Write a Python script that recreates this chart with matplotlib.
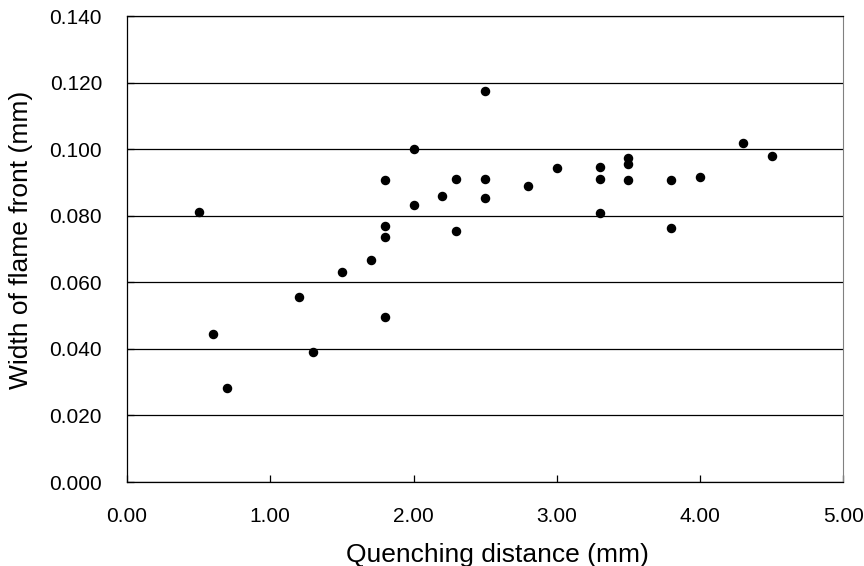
import matplotlib
matplotlib.use("Agg")
import matplotlib.pyplot as plt
from matplotlib.ticker import FormatStrFormatter

plt.rcParams['font.family'] = ['Liberation Sans', 'DejaVu Sans']

# quenching distance (mm) vs flame front width (mm)
quench_dist = [0.5, 0.6, 0.7, 1.2, 1.3, 1.5, 1.7, 1.8, 1.8, 1.8, 1.8,
               2.0, 2.0, 2.2, 2.3, 2.3, 2.5, 2.5, 2.5, 2.8, 3.0,
               3.3, 3.3, 3.3, 3.5, 3.5, 3.5, 3.8, 3.8, 4.0, 4.3, 4.5]
front_width = [0.081, 0.0444, 0.0282, 0.0555, 0.039, 0.063, 0.0666, 0.0768, 0.0737, 0.0497, 0.0906,
               0.0831, 0.1000, 0.0858, 0.0911, 0.0755, 0.1174, 0.0911, 0.0853, 0.0888, 0.0942,
               0.0947, 0.0911, 0.0808, 0.0974, 0.0954, 0.0907, 0.0907, 0.0764, 0.0916, 0.1018, 0.0978]

x_ticks = [0, 1, 2, 3, 4, 5]
y_ticks = [0.0, 0.02, 0.04, 0.06, 0.08, 0.10, 0.12, 0.14]

fig = plt.figure(figsize=(8.64, 5.66), dpi=100)
ax = fig.add_axes([0.147, 0.1484, 0.829, 0.8233])

ax.scatter(quench_dist, front_width, s=34, color='black', zorder=3)

ax.set_xlim(0, 5)
ax.set_ylim(0, 0.14)
ax.set_xticks(x_ticks)
ax.set_yticks(y_ticks)
ax.xaxis.set_major_formatter(FormatStrFormatter('%.2f'))
ax.yaxis.set_major_formatter(FormatStrFormatter('%.3f'))

# horizontal gridlines only, like the spreadsheet chart
ax.yaxis.grid(True, color='black', linewidth=0.9)
ax.set_axisbelow(True)

ax.tick_params(axis='both', direction='in', length=5, width=0.9, labelsize=15)
ax.tick_params(axis='x', pad=18)
ax.tick_params(axis='y', pad=18)

for side in ['left', 'bottom', 'top']:
    ax.spines[side].set_color('black')
    ax.spines[side].set_linewidth(0.9)
ax.spines['right'].set_color('#808080')

# labels sit slightly off-centre in the original
ax.set_xlabel('Quenching distance (mm)', fontsize=19, labelpad=12, x=0.5175)
ax.set_ylabel('Width of flame front (mm)', fontsize=19, labelpad=12, y=0.519)

fig.savefig('out.png', dpi=100)
